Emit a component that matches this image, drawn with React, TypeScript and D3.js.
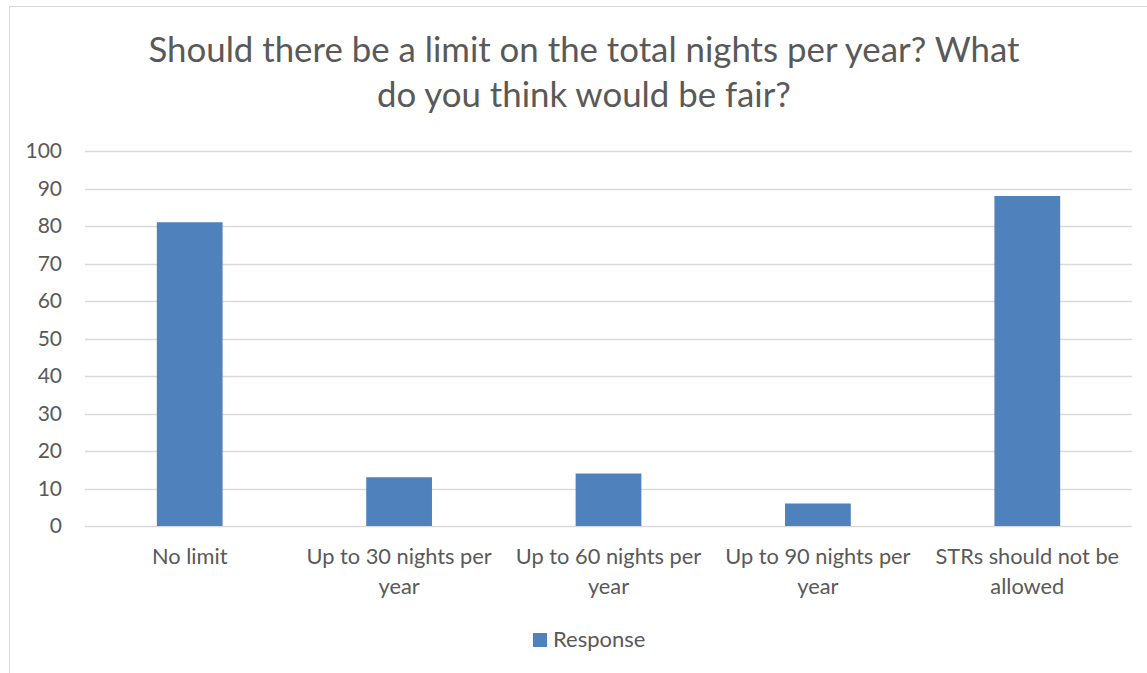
import React from "react";
import * as d3 from "d3";

const categories: string[][] = [
  ["No limit"],
  ["Up to 30 nights per", "year"],
  ["Up to 60 nights per", "year"],
  ["Up to 90 nights per", "year"],
  ["STRs should not be", "allowed"],
];
const responses = [81, 13, 14, 6, 88];
const yTicks = [0, 10, 20, 30, 40, 50, 60, 70, 80, 90, 100];
const titleLines = [
  "Should there be a limit on the total nights per year? What",
  "do you think would be fair?",
];
const seriesName = "Response";

const W = 1147;
const H = 673;
const font = "Lato, 'Open Sans', sans-serif";
const textColor = "#595959";
const barColor = "#4F81BD";

const App: React.FC = () => {
  const margin = { left: 85, right: 1132, top: 151, bottom: 526 };

  const x = d3
    .scaleBand<number>()
    .domain(d3.range(categories.length))
    .range([margin.left, margin.right])
    .paddingInner(0.686)
    .paddingOuter(0.343);

  const y = d3.scaleLinear().domain([0, 100]).range([margin.bottom, margin.top]);

  return (
    <svg
      width={W}
      height={H}
      style={{ position: "absolute", left: 0, top: 0, fontFamily: font }}
    >
      <rect x={0} y={0} width={W} height={H} fill="#fff" />
      <rect x={9.5} y={6.5} width={W + 10} height={H + 10} fill="#fff" stroke="#D9D9D9" />

      {titleLines.map((t, i) => (
        <text
          key={i}
          x={584}
          y={62 + i * 45}
          textAnchor="middle"
          fontSize={34.8}
          fill={textColor}
        >
          {t}
        </text>
      ))}

      {yTicks.map((t) => (
        <g key={t}>
          <line
            x1={margin.left}
            x2={margin.right}
            y1={Math.round(y(t)) + 0.5}
            y2={Math.round(y(t)) + 0.5}
            stroke="#D9D9D9"
            strokeWidth={1.3}
          />
          <text
            x={62}
            y={y(t)}
            dy="0.35em"
            textAnchor="end"
            fontSize={21}
            fill={textColor}
          >
            {t}
          </text>
        </g>
      ))}

      {responses.map((v, i) => (
        <rect
          key={i}
          x={x(i)}
          y={y(v)}
          width={x.bandwidth()}
          height={y(0) - y(v)}
          fill={barColor}
        />
      ))}

      {categories.map((lines, i) => (
        <text
          key={i}
          x={(x(i) ?? 0) + x.bandwidth() / 2}
          y={564}
          textAnchor="middle"
          fontSize={21.8}
          fill={textColor}
        >
          {lines.map((l, j) => (
            <tspan key={j} x={(x(i) ?? 0) + x.bandwidth() / 2} dy={j === 0 ? 0 : 29.5}>
              {l}
            </tspan>
          ))}
        </text>
      ))}

      <rect x={533} y={633} width={14} height={14} fill={barColor} />
      <text x={553} y={647} fontSize={22} fill={textColor}>
        {seriesName}
      </text>
    </svg>
  );
};

export default App;
